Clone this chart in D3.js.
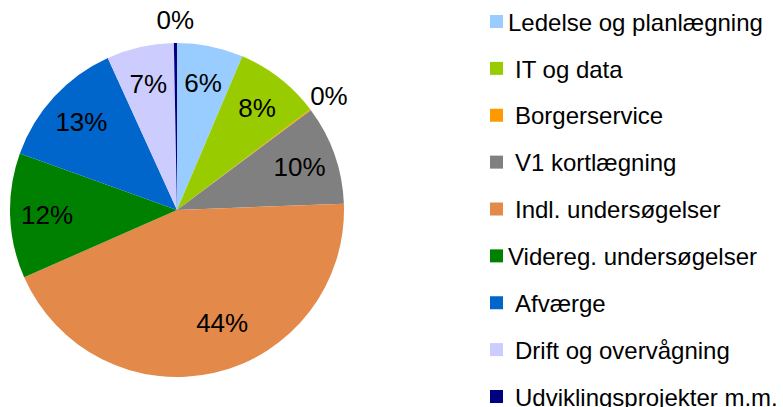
<!DOCTYPE html>
<html>
<head>
<meta charset="utf-8">
<script src="https://cdn.jsdelivr.net/npm/d3@7"></script>
<style>
  body { margin: 0; background: #fff; }
  text { font-family: "Liberation Sans", Arial, sans-serif; fill: #000; }
</style>
</head>
<body>
<svg></svg>
<script>
const width = 783
const height = 407

const categories = [
  'Ledelse og planlægning', 'IT og data', 'Borgerservice', 'V1 kortlægning',
  'Indl. undersøgelser', 'Videreg. undersøgelser', 'Afværge',
  'Drift og overvågning', 'Udviklingsprojekter m.m.'
]
const shares = [6.4, 8.3, 0.1, 9.6, 44.0, 12.1, 12.7, 6.5, 0.3]
const colors = ['#99ccff', '#99cc00', '#ff9900', '#808080', '#e3894a',
  '#008000', '#0066cc', '#ccccff', '#000080']
// legend labels in the original start with a space for most items
const legendPad = [false, true, true, true, true, false, true, true, true]

const data = categories.map((c, i) => ({ name: c, value: shares[i], color: colors[i] }))

const svg = d3.select('svg')
  .attr('width', width)
  .attr('height', height)

const cx = 177, cy = 210, r = 167

const pie = d3.pie().sort(null).value(d => d.value)
const arc = d3.arc().innerRadius(0).outerRadius(r)
const inLabel = d3.arc().innerRadius(130).outerRadius(130)
const outLabel = d3.arc().innerRadius(190).outerRadius(190)

const g = svg.append('g').attr('transform', `translate(${cx},${cy})`)
const arcs = pie(data)

g.selectAll('path')
  .data(arcs)
  .join('path')
    .attr('d', arc)
    .attr('fill', d => d.data.color)

g.selectAll('text')
  .data(arcs)
  .join('text')
    .attr('transform', d => {
      const a = d.data.value < 1 ? outLabel : inLabel
      let [x, y] = a.centroid(d)
      // big slice label sits closer to the middle in the original
      if (d.data.value > 40) { x += 16; y -= 14 }
      return `translate(${x},${y})`
    })
    .attr('text-anchor', 'middle')
    .attr('dy', '0.36em')
    .style('font-size', '26px')
    .text(d => Math.round(d.data.value) + '%')

const legendY = d3.scalePoint().domain(categories).range([22, 397])

const legend = svg.append('g')
  .selectAll('g')
  .data(data)
  .join('g')
    .attr('transform', d => `translate(490,${legendY(d.name)})`)

legend.append('rect')
  .attr('x', 0).attr('y', -7)
  .attr('width', 13).attr('height', 13)
  .attr('fill', d => d.color)

legend.append('text')
  .attr('x', (d, i) => legendPad[i] ? 25 : 18)
  .attr('dy', '0.36em')
  .style('font-size', '24px')
  .text(d => d.name)
</script>
</body>
</html>
